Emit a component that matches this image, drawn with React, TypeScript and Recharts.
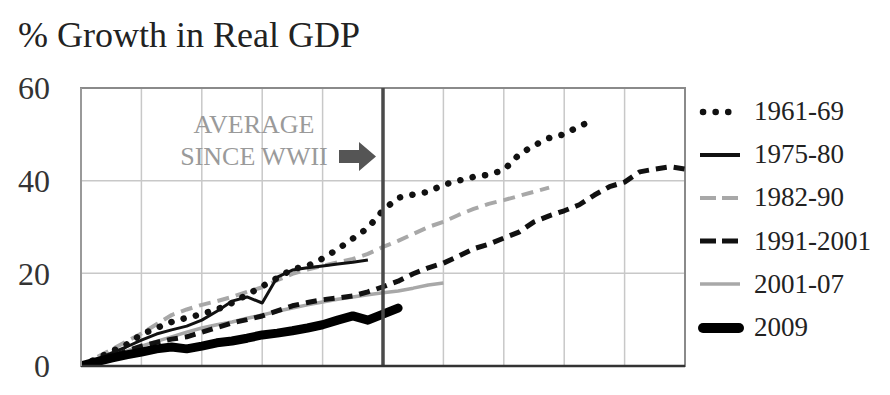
import {
  LineChart,
  Line,
  XAxis,
  YAxis,
  CartesianGrid,
  ReferenceLine,
  ReferenceArea,
  Legend,
} from "recharts";

// quarters since the trough
const quarters = [
  0, 1, 2, 3, 4, 5, 6, 7, 8, 9, 10, 11, 12, 13, 14, 15, 16, 17, 18, 19, 20,
  21, 22, 23, 24, 25, 26, 27, 28, 29, 30, 31, 32, 33, 34, 35, 36, 37, 38, 39, 40,
];

const s1961 = [
  0, 1.5, 3.1, 4.6, 6.8, 8.2, 9.5, 10.4, 11.2, 12.2, 13.6, 15.4, 17.2, 19, 20.9,
  21.6, 23.2, 25.2, 27.5, 29.8, 33.6, 36.3, 37, 37.6, 39.1, 40, 40.8, 41.3, 42.3,
  45.6, 47.6, 49.2, 50, 51.8, 53,
];
const s1975 = [
  0, 1.3, 2.8, 4.1, 5.6, 6.9, 7.8, 8.6, 9.9, 11.8, 14, 14.9, 13.6, 19.2, 20.7,
  21.2, 21.6, 22, 22.4, 22.9,
];
const s1982 = [
  0, 1.8, 3.5, 5.3, 7, 9, 11, 12.2, 13.2, 14, 14.9, 16, 17, 18.5, 19.9, 20.8,
  21.6, 22.4, 23.1, 24.2, 25.7, 27, 28.5, 30, 31.1, 32.6, 33.9, 35, 35.8, 36.7,
  37.6, 38.5,
];
const s1991 = [
  0, 1, 2, 3.2, 4.3, 5.1, 5.8, 6.3, 7.3, 8.3, 9.3, 10, 10.8, 11.9, 13, 13.7,
  14.3, 14.7, 15.1, 16, 17.1, 18.3, 19.9, 21.2, 22.2, 23.7, 25.3, 26.3, 27.6,
  28.9, 31.1, 32.4, 33.5, 34.8, 36.9, 38.7, 39.7, 41.9, 42.5, 43, 42.5,
];
const s2001 = [
  0, 1, 2, 3.2, 4.3, 5.3, 6.3, 7.3, 8.2, 8.9, 9.5, 10.3, 11, 11.8, 12.5, 13.2,
  13.8, 14.4, 14.9, 15.4, 15.8, 16.2, 16.8, 17.5, 17.9,
];
const s2009 = [
  0, 0.9, 1.7, 2.4, 3, 3.7, 4.1, 3.7, 4.3, 5, 5.4, 6, 6.7, 7.1, 7.6, 8.2, 8.9,
  9.9, 10.8, 9.9, 11.2, 12.5,
];

const yTicks = [0, 20, 40, 60];
const xTicks = [0, 4, 8, 12, 16, 20, 24, 28, 32, 36, 40];
const avgQuarter = 20;

const FONT = "'Liberation Serif', 'Times New Roman', serif";

const toData = (vals: number[]) => vals.map((v, i) => ({ q: quarters[i], v }));

type Style = {
  stroke: string;
  width: number;
  dash?: string;
  cap?: "round" | "butt";
};

const series: { name: string; values: number[]; style: Style }[] = [
  { name: "1982-90", values: s1982, style: { stroke: "#a8a8a8", width: 4, dash: "12 7" } },
  { name: "2001-07", values: s2001, style: { stroke: "#a8a8a8", width: 3.5 } },
  { name: "1991-2001", values: s1991, style: { stroke: "#111", width: 5, dash: "11 7" } },
  { name: "1975-80", values: s1975, style: { stroke: "#111", width: 3 } },
  { name: "1961-69", values: s1961, style: { stroke: "#111", width: 6.5, dash: "0.1 12.5", cap: "round" } },
  { name: "2009", values: s2009, style: { stroke: "#000", width: 9, cap: "round" } },
];

const legendOrder = ["1961-69", "1975-80", "1982-90", "1991-2001", "2001-07", "2009"];

function LegendIcon({ style }: { style: Style }) {
  return (
    <svg width={48} height={16} style={{ display: "block" }}>
      <line
        x1={style.cap === "round" ? 6 : 3}
        x2={style.cap === "round" ? 42 : 43}
        y1={8}
        y2={8}
        stroke={style.stroke}
        strokeWidth={style.width === 3 ? 4 : style.width === 9 ? 10 : style.width}
        strokeDasharray={style.dash === "11 7" || style.dash === "12 7" ? "16 6" : style.dash}
        strokeLinecap={style.cap ?? "butt"}
      />
    </svg>
  );
}

function renderLegend() {
  return (
    <div style={{ fontFamily: FONT, fontSize: 27, color: "#222" }}>
      {legendOrder.map((n) => {
        const s = series.find((x) => x.name === n)!;
        return (
          <div
            key={n}
            style={{ display: "flex", alignItems: "center", height: 43.2 }}
          >
            <LegendIcon style={s.style} />
            <span style={{ marginLeft: 9 }}>{n}</span>
          </div>
        );
      })}
    </div>
  );
}

function AvgLabel(props: any) {
  const vb = props.viewBox || {};
  const vx = vb.x ?? 382;
  const cx = vx - 129;
  return (
    <g>
      <text x={cx} y={133} textAnchor="middle" fontFamily={FONT} fontSize={26} fill="#9a9a9a">
        AVERAGE
      </text>
      <text x={cx} y={165} textAnchor="middle" fontFamily={FONT} fontSize={26} fill="#9a9a9a">
        SINCE WWII
      </text>
      <polygon
        points={`${vx - 44},150 ${vx - 24},150 ${vx - 24},142 ${vx - 7},156.5 ${vx - 24},171 ${vx - 24},163 ${vx - 44},163`}
        fill="#555"
      />
    </g>
  );
}

export default function App() {
  return (
    <div
      style={{
        position: "absolute",
        left: 0,
        top: 0,
        width: 890,
        height: 395,
        background: "#fff",
        overflow: "hidden",
      }}
    >
      <div
        style={{
          position: "absolute",
          left: 18,
          top: 17,
          fontFamily: FONT,
          fontSize: 36,
          lineHeight: 1,
          color: "#222",
          whiteSpace: "nowrap",
        }}
      >
        % Growth in Real GDP
      </div>
      <LineChart
        width={890}
        height={395}
        margin={{ top: 88, right: 205, bottom: 0, left: 0 }}
      >
        <CartesianGrid stroke="#c8c8c8" strokeWidth={1.5} />
        <XAxis
          dataKey="q"
          type="number"
          domain={[0, 40]}
          ticks={xTicks}
          tickFormatter={() => ""}
          tickLine={false}
          height={29}
          axisLine={{ stroke: "#333", strokeWidth: 2.5 }}
          allowDataOverflow
        />
        <YAxis
          type="number"
          domain={[0, 60]}
          ticks={yTicks}
          width={81}
          tickSize={0}
          tickMargin={31}
          tickLine={false}
          axisLine={{ stroke: "#999", strokeWidth: 2 }}
          tick={{ fontFamily: FONT, fontSize: 32, fill: "#333" }}
          allowDataOverflow
        />
        <ReferenceArea
          x1={0}
          x2={40}
          y1={0}
          y2={60}
          fill="none"
          stroke="#8a8a8a"
          strokeWidth={2}
          fillOpacity={0}
        />
        {series.map((s) => (
          <Line
            key={s.name}
            data={toData(s.values)}
            dataKey="v"
            name={s.name}
            type="linear"
            stroke={s.style.stroke}
            strokeWidth={s.style.width}
            strokeDasharray={s.style.dash}
            strokeLinecap={s.style.cap ?? "butt"}
            strokeLinejoin="round"
            dot={false}
            activeDot={false}
            isAnimationActive={false}
          />
        ))}
        <ReferenceLine
          x={avgQuarter}
          stroke="#4a4a4a"
          strokeWidth={3.5}
          label={(p: any) => <AvgLabel {...p} />}
        />
        <Legend
          content={renderLegend}
          layout="horizontal"
          verticalAlign="middle"
          align="center"
          wrapperStyle={{ position: "absolute", left: 697, top: 90, width: 190 }}
        />
      </LineChart>
    </div>
  );
}
